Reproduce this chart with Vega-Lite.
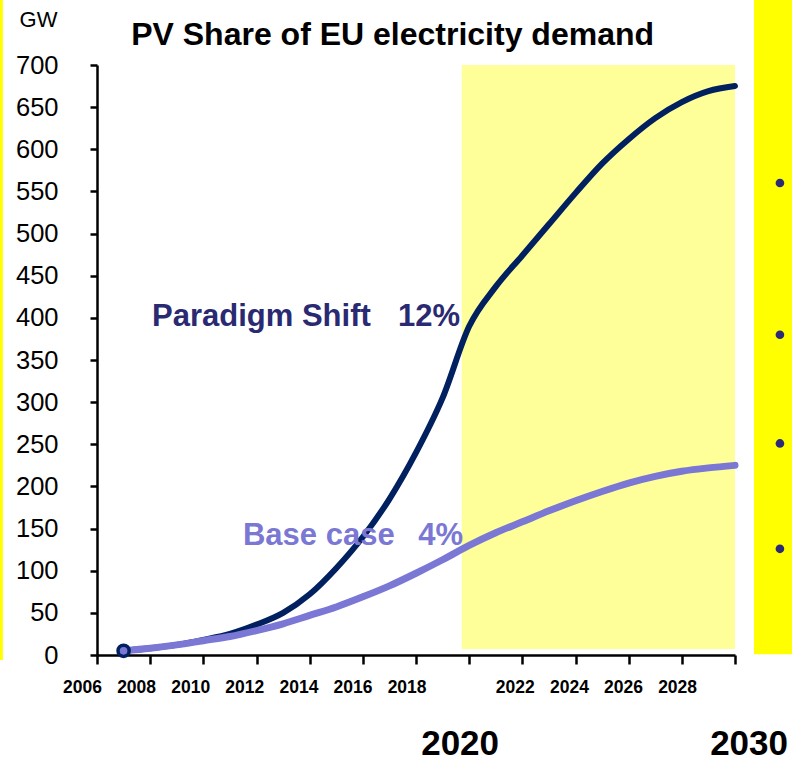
{
  "$schema": "https://vega.github.io/schema/vega-lite/v6.json",
  "autosize": "none",
  "width": 638,
  "height": 590,
  "padding": {"left": 97, "top": 65, "right": 57, "bottom": 105},
  "background": "white",
  "config": {"view": {"stroke": null}, "font": "Liberation Sans"},
  "datasets": {
    "lines": [
      {"series": "Paradigm Shift", "year": 2007, "gw": 5},
      {"series": "Paradigm Shift", "year": 2008, "gw": 8},
      {"series": "Paradigm Shift", "year": 2009, "gw": 12},
      {"series": "Paradigm Shift", "year": 2010, "gw": 18},
      {"series": "Paradigm Shift", "year": 2011, "gw": 25},
      {"series": "Paradigm Shift", "year": 2012, "gw": 36},
      {"series": "Paradigm Shift", "year": 2013, "gw": 50},
      {"series": "Paradigm Shift", "year": 2014, "gw": 72},
      {"series": "Paradigm Shift", "year": 2015, "gw": 103},
      {"series": "Paradigm Shift", "year": 2016, "gw": 140},
      {"series": "Paradigm Shift", "year": 2017, "gw": 185},
      {"series": "Paradigm Shift", "year": 2018, "gw": 240},
      {"series": "Paradigm Shift", "year": 2019, "gw": 305},
      {"series": "Paradigm Shift", "year": 2020, "gw": 390},
      {"series": "Paradigm Shift", "year": 2021, "gw": 437},
      {"series": "Paradigm Shift", "year": 2022, "gw": 474},
      {"series": "Paradigm Shift", "year": 2023, "gw": 511},
      {"series": "Paradigm Shift", "year": 2024, "gw": 548},
      {"series": "Paradigm Shift", "year": 2025, "gw": 583},
      {"series": "Paradigm Shift", "year": 2026, "gw": 612},
      {"series": "Paradigm Shift", "year": 2027, "gw": 637},
      {"series": "Paradigm Shift", "year": 2028, "gw": 656},
      {"series": "Paradigm Shift", "year": 2029, "gw": 669},
      {"series": "Paradigm Shift", "year": 2030, "gw": 675},
      {"series": "Base case", "year": 2007, "gw": 5},
      {"series": "Base case", "year": 2008, "gw": 8},
      {"series": "Base case", "year": 2009, "gw": 12},
      {"series": "Base case", "year": 2010, "gw": 17},
      {"series": "Base case", "year": 2011, "gw": 22},
      {"series": "Base case", "year": 2012, "gw": 29},
      {"series": "Base case", "year": 2013, "gw": 37},
      {"series": "Base case", "year": 2014, "gw": 47},
      {"series": "Base case", "year": 2015, "gw": 57},
      {"series": "Base case", "year": 2016, "gw": 69},
      {"series": "Base case", "year": 2017, "gw": 82},
      {"series": "Base case", "year": 2018, "gw": 97},
      {"series": "Base case", "year": 2019, "gw": 113},
      {"series": "Base case", "year": 2020, "gw": 130},
      {"series": "Base case", "year": 2021, "gw": 145},
      {"series": "Base case", "year": 2022, "gw": 158},
      {"series": "Base case", "year": 2023, "gw": 171},
      {"series": "Base case", "year": 2024, "gw": 183},
      {"series": "Base case", "year": 2025, "gw": 194},
      {"series": "Base case", "year": 2026, "gw": 204},
      {"series": "Base case", "year": 2027, "gw": 212},
      {"series": "Base case", "year": 2028, "gw": 218},
      {"series": "Base case", "year": 2029, "gw": 222},
      {"series": "Base case", "year": 2030, "gw": 225}
    ],
    "namesLeft": [
      {"series": "Paradigm Shift", "text": "Paradigm Shift", "year": 2008.07, "gw": 390},
      {"series": "Base case", "text": "Base case", "year": 2011.49, "gw": 130.5}
    ],
    "sharesRight": [
      {"series": "Paradigm Shift", "text": "12%", "year": 2019.66, "gw": 390},
      {"series": "Base case", "text": "4%", "year": 2019.77, "gw": 130.5}
    ],
    "heading": [
      {"text": "PV Share of EU electricity demand", "year": 2017.12, "gw": 723.5}
    ],
    "horizon": [
      {"text": "2020", "year": 2019.66, "gw": -119},
      {"text": "2030", "year": 2030.53, "gw": -119}
    ],
    "bullets": [
      {"year": 2031.69, "gw": 560},
      {"year": 2031.69, "gw": 380},
      {"year": 2031.69, "gw": 251},
      {"year": 2031.69, "gw": 126}
    ]
  },
  "layer": [
    {
      "data": {"values": [{}]},
      "mark": {"type": "rect", "color": "#FFFF00", "clip": false},
      "encoding": {
        "x": {"datum": 2030.715, "type": "quantitative"},
        "x2": {"datum": 2032.2},
        "y": {"datum": 1, "type": "quantitative"},
        "y2": {"datum": 778}
      }
    },
    {
      "data": {"values": [{}]},
      "mark": {"type": "rect", "color": "#FFFF00", "clip": false},
      "encoding": {
        "x": {"datum": 2002.3, "type": "quantitative"},
        "x2": {"datum": 2002.46},
        "y": {"datum": -6, "type": "quantitative"},
        "y2": {"datum": 778}
      }
    },
    {
      "data": {"values": [{}]},
      "mark": {"type": "rect", "color": "#FFFF99"},
      "encoding": {
        "x": {"datum": 2019.72, "type": "quantitative"},
        "x2": {"datum": 2030},
        "y": {"datum": 7, "type": "quantitative"},
        "y2": {"datum": 700}
      }
    },
    {
      "data": {"name": "lines"},
      "mark": {"type": "line", "interpolate": "monotone", "strokeCap": "round"},
      "encoding": {
        "x": {
          "field": "year", "type": "quantitative",
          "scale": {"domain": [2006, 2030], "nice": false, "zero": false},
          "axis": {
            "title": null,
            "values": [2006, 2008, 2010, 2012, 2014, 2016, 2018, 2020, 2022, 2024, 2026, 2028, 2030],
            "format": "d",
            "labelExpr": "datum.value == 2020 || datum.value == 2030 ? '' : datum.label",
            "labelOffset": {"expr": "-15 + (datum.value - 2006) * 0.467"},
            "labelFont": "Liberation Sans", "labelFontSize": 17.5, "labelFontWeight": "bold", "labelColor": "black",
            "labelPadding": 14, "labelFlush": false, "labelOverlap": false,
            "tickSize": 9, "tickWidth": 2.5, "tickColor": "black",
            "domainColor": "black", "domainWidth": 2.5, "grid": false
          }
        },
        "y": {
          "field": "gw", "type": "quantitative",
          "scale": {"domain": [0, 700], "nice": false},
          "axis": {
            "title": "GW", "titleAngle": 0, "titleX": -59, "titleY": -39, "titleAlign": "center", "titleBaseline": "alphabetic",
            "titleFont": "Liberation Sans", "titleFontSize": 22, "titleFontWeight": "normal", "titleColor": "black",
            "values": [0, 50, 100, 150, 200, 250, 300, 350, 400, 450, 500, 550, 600, 650, 700],
            "labelFont": "Liberation Sans", "labelFontSize": 25.5, "labelColor": "black",
            "labelPadding": 32, "labelFlush": false, "labelOverlap": false,
            "tickSize": 7, "tickWidth": 2.5, "tickColor": "black",
            "domainColor": "black", "domainWidth": 2.5, "grid": false
          }
        },
        "color": {
          "field": "series", "type": "nominal",
          "scale": {"domain": ["Paradigm Shift", "Base case"], "range": ["#00205F", "#7B77D4"]},
          "legend": null
        },
        "strokeWidth": {
          "field": "series", "type": "nominal",
          "scale": {"domain": ["Paradigm Shift", "Base case"], "range": [6, 7]},
          "legend": null
        },
        "order": {"field": "series", "sort": "descending"}
      }
    },
    {
      "data": {"values": [{"year": 2007, "gw": 5}]},
      "mark": {"type": "point", "filled": false, "fill": "#7B77D4", "fillOpacity": 1, "stroke": "#00205F", "strokeWidth": 3.5, "size": 125, "clip": false},
      "encoding": {
        "x": {"field": "year", "type": "quantitative"},
        "y": {"field": "gw", "type": "quantitative"}
      }
    },
    {
      "data": {"name": "namesLeft"},
      "mark": {"type": "text", "font": "Liberation Sans", "fontSize": 31, "fontWeight": "bold", "baseline": "alphabetic", "align": "left"},
      "encoding": {
        "x": {"field": "year", "type": "quantitative"},
        "y": {"field": "gw", "type": "quantitative"},
        "text": {"field": "text"},
        "color": {
          "field": "series", "type": "nominal",
          "scale": {"domain": ["Paradigm Shift", "Base case"], "range": ["#2A2A72", "#7B77D4"]},
          "legend": null
        }
      }
    },
    {
      "data": {"name": "sharesRight"},
      "mark": {"type": "text", "font": "Liberation Sans", "fontSize": 31, "fontWeight": "bold", "baseline": "alphabetic", "align": "right"},
      "encoding": {
        "x": {"field": "year", "type": "quantitative"},
        "y": {"field": "gw", "type": "quantitative"},
        "text": {"field": "text"},
        "color": {
          "field": "series", "type": "nominal",
          "scale": {"domain": ["Paradigm Shift", "Base case"], "range": ["#2A2A72", "#7B77D4"]},
          "legend": null
        }
      }
    },
    {
      "data": {"name": "heading"},
      "mark": {"type": "text", "font": "Liberation Sans", "fontSize": 32, "fontWeight": "bold", "baseline": "alphabetic", "align": "center", "color": "black", "clip": false},
      "encoding": {
        "x": {"field": "year", "type": "quantitative"},
        "y": {"field": "gw", "type": "quantitative"},
        "text": {"field": "text"}
      }
    },
    {
      "data": {"name": "horizon"},
      "mark": {"type": "text", "font": "Liberation Sans", "fontSize": 35, "fontWeight": "bold", "baseline": "alphabetic", "align": "center", "color": "black", "clip": false},
      "encoding": {
        "x": {"field": "year", "type": "quantitative"},
        "y": {"field": "gw", "type": "quantitative"},
        "text": {"field": "text"}
      }
    },
    {
      "data": {"name": "bullets"},
      "mark": {"type": "circle", "color": "#2A2A78", "size": 75, "opacity": 1, "clip": false},
      "encoding": {
        "x": {"field": "year", "type": "quantitative"},
        "y": {"field": "gw", "type": "quantitative"}
      }
    }
  ],
  "resolve": {"scale": {"color": "independent", "strokeWidth": "independent"}}
}
